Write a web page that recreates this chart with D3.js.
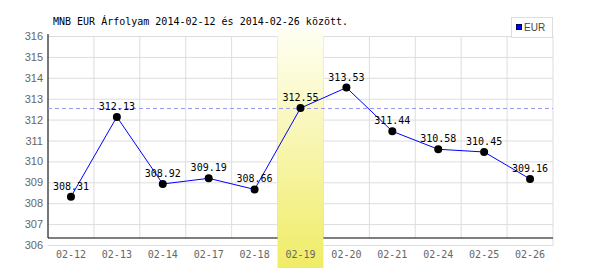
<!DOCTYPE html>
<html lang="hu">
<head>
<meta charset="utf-8">
<title>MNB EUR</title>
<script src="https://d3js.org/d3.v7.min.js"></script>
<style>
  body { margin: 0; background: #fff; }
  .tick line { stroke: #dddddd; }
  .domain { display: none; }
</style>
</head>
<body>
<script>
var dates = ["02-12","02-13","02-14","02-17","02-18","02-19","02-20","02-21","02-24","02-25","02-26"];
var rates = [308.31, 312.13, 308.92, 309.19, 308.66, 312.55, 313.53, 311.44, 310.58, 310.45, 309.16];
var yTicks = [306, 307, 308, 309, 310, 311, 312, 313, 314, 315, 316];
var highlight = "02-19";
var title = "MNB EUR Árfolyam 2014-02-12 és 2014-02-26 között.";

var W = 600, H = 270;
var pLeft = 48, pRight = 553, pTop = 36, pBottom = 245;

var svg = d3.select("body").append("svg")
  .attr("width", W).attr("height", H);

var x = d3.scaleBand().domain(dates).range([pLeft, pRight]);
var y = d3.scaleLinear().domain([306, 316]).range([pBottom, pTop]);

// gradient for highlighted day
var grad = svg.append("defs").append("linearGradient")
  .attr("id", "hl").attr("x1", 0).attr("y1", 0).attr("x2", 0).attr("y2", 1);
grad.append("stop").attr("offset", "0%").attr("stop-color", "#fffff4");
grad.append("stop").attr("offset", "100%").attr("stop-color", "#f0ec66");

// horizontal grid + y labels
var yAxis = svg.append("g")
  .attr("transform", "translate(" + pLeft + ",0)")
  .call(d3.axisLeft(y).tickValues(yTicks).tickSize(-(pRight - pLeft)).tickPadding(5));
yAxis.selectAll("text")
  .attr("fill", "#666").attr("font-size", "11px")
  .attr("font-family", "Liberation Sans, Arial, sans-serif");

// vertical grid lines
svg.append("g").selectAll("line")
  .data(dates.concat(["end"]))
  .join("line")
  .attr("x1", function(d) { return d == "end" ? pRight : x(d); })
  .attr("x2", function(d) { return d == "end" ? pRight : x(d); })
  .attr("y1", pTop)
  .attr("y2", function(d) { return d == "end" ? pBottom : pBottom - 7; })
  .attr("stroke", "#dddddd");

// axis lines
svg.append("line").attr("x1", pLeft).attr("x2", pLeft)
  .attr("y1", pTop - 2).attr("y2", pBottom - 7).attr("stroke", "#000");
svg.append("line").attr("x1", pLeft).attr("x2", pRight)
  .attr("y1", pBottom - 7).attr("y2", pBottom - 7).attr("stroke", "#000").attr("stroke-width", 1.2);

// highlighted band
svg.append("rect")
  .attr("x", x(highlight)).attr("y", 28)
  .attr("width", x.bandwidth()).attr("height", 240)
  .attr("fill", "url(#hl)");

// x labels
svg.append("g")
  .attr("transform", "translate(0," + pBottom + ")")
  .call(d3.axisBottom(x).tickSize(0).tickPadding(6))
  .selectAll("text")
  .attr("fill", "#666").attr("font-size", "10px")
  .attr("font-family", "DejaVu Sans Mono, monospace");

// reference dashed line at highlighted value
var hv = rates[dates.indexOf(highlight)];
svg.append("line")
  .attr("x1", pLeft).attr("x2", pRight)
  .attr("y1", Math.round(y(hv)) + 0.5).attr("y2", Math.round(y(hv)) + 0.5)
  .attr("stroke", "#9999ee").attr("stroke-dasharray", "4,3");

// line
var pts = dates.map(function(d, i) { return [x(d) + x.bandwidth() / 2, y(rates[i])]; });
svg.append("path")
  .attr("d", d3.line()(pts))
  .attr("fill", "none").attr("stroke", "#0000ff").attr("stroke-width", 1);

svg.append("g").selectAll("circle")
  .data(pts).join("circle")
  .attr("cx", function(d) { return d[0]; })
  .attr("cy", function(d) { return d[1]; })
  .attr("r", 4).attr("fill", "#000");

svg.append("g").selectAll("text")
  .data(rates).join("text")
  .attr("x", function(d, i) { return pts[i][0]; })
  .attr("y", function(d, i) { return pts[i][1] - 7; })
  .attr("text-anchor", "middle")
  .attr("font-size", "10px")
  .attr("font-family", "DejaVu Sans Mono, monospace")
  .attr("fill", "#000")
  .text(function(d) { return d.toFixed(2); });

// title
svg.append("text")
  .attr("x", 53).attr("y", 25)
  .attr("font-size", "10px")
  .attr("font-family", "DejaVu Sans Mono, monospace")
  .attr("fill", "#000")
  .text(title);

// legend
var lg = svg.append("g").attr("transform", "translate(511,17)");
lg.append("rect").attr("x", 0.5).attr("y", 0.5).attr("width", 41).attr("height", 20)
  .attr("fill", "#fff").attr("stroke", "#dddddd");
lg.append("rect").attr("x", 5.5).attr("y", 7.5).attr("width", 5).attr("height", 5)
  .attr("fill", "#0000ff").attr("stroke", "#000066");
lg.append("text").attr("x", 13).attr("y", 14)
  .attr("font-size", "10px")
  .attr("font-family", "Liberation Sans, Arial, sans-serif")
  .attr("fill", "#444")
  .text("EUR");
</script>
</body>
</html>
